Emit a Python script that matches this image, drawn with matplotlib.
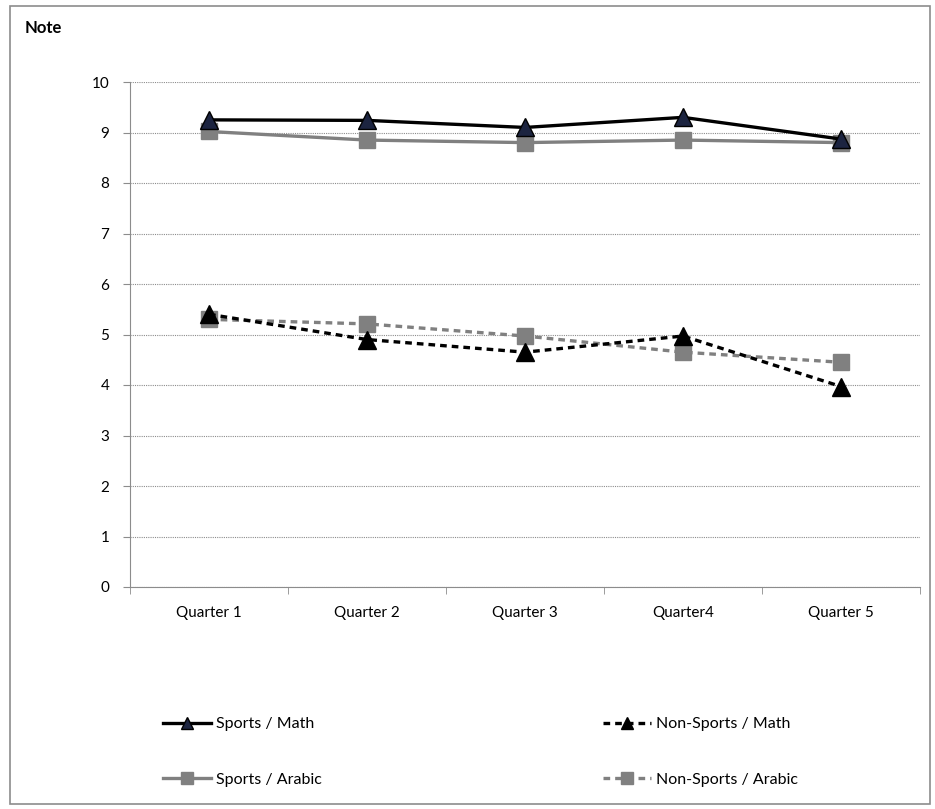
import numpy as np
import matplotlib.pyplot as plt
from matplotlib.patches import Rectangle

# Mean grades per quarter
quarters = ['Quarter 1', 'Quarter 2', 'Quarter 3', 'Quarter4', 'Quarter 5']
sports_math = [9.25, 9.24, 9.10, 9.30, 8.87]
sports_arabic = [9.02, 8.85, 8.80, 8.85, 8.80]
nonsports_math = [5.40, 4.90, 4.65, 4.97, 3.97]
nonsports_arabic = [5.30, 5.21, 4.97, 4.65, 4.45]

plt.rcParams['font.family'] = ['Lato', 'DejaVu Sans']

fig = plt.figure(figsize=(9.35, 8.09), dpi=100)
fig.patches.append(Rectangle((0.011, 0.006), 0.984, 0.986, transform=fig.transFigure,
                             fill=False, edgecolor='#8c8c8c', linewidth=1.2))
fig.text(25 / 935, 1 - 28 / 809, 'Note', fontsize=12, fontweight='bold', va='center')

ax = fig.add_axes([130 / 935, 1 - 587 / 809, 790 / 935, 505 / 809])
x = np.arange(len(quarters))

l1, = ax.plot(x, sports_math, color='black', lw=2.4, marker='^', ms=13,
              mfc='#1c2440', mec='black', zorder=4, label='Sports / Math')
l2, = ax.plot(x, sports_arabic, color='#808080', lw=2.4, marker='s', ms=12,
              mfc='#808080', mec='#808080', zorder=3, label='Sports / Arabic')
l3, = ax.plot(x, nonsports_math, color='black', lw=2.4, ls=(0, (2, 1.5)), marker='^', ms=13,
              mfc='black', mec='black', zorder=4, label='Non-Sports / Math')
l4, = ax.plot(x, nonsports_arabic, color='#808080', lw=2.4, ls=(0, (2, 1.5)), marker='s', ms=12,
              mfc='#808080', mec='#808080', zorder=3, label='Non-Sports / Arabic')

ax.set_xlim(-0.5, len(quarters) - 0.5)
ax.set_ylim(0, 10)
ax.set_yticks(range(0, 11))
ax.set_xticks(x)
ax.set_xticklabels(quarters)
ax.set_xticks(np.arange(-0.5, len(quarters)), minor=True)
ax.tick_params(axis='x', which='major', length=0, pad=14, labelsize=11)
ax.tick_params(axis='x', which='minor', length=5, color='#8c8c8c')
ax.tick_params(axis='y', length=5, color='#8c8c8c', pad=10, labelsize=11)
for s in ['top', 'right']:
    ax.spines[s].set_visible(False)
for s in ['left', 'bottom']:
    ax.spines[s].set_color('#8c8c8c')
ax.yaxis.grid(True, linestyle=(0, (1, 1)), color='#8c8c8c', linewidth=0.8)
ax.set_axisbelow(True)

leg_kw = dict(frameon=False, fontsize=11.5, handlelength=3.0, handletextpad=0.3,
              labelspacing=2.6, borderaxespad=0, borderpad=0, loc='upper left')
leg1 = fig.legend(handles=[l1, l2], bbox_to_anchor=(163 / 935, 1 - 717 / 809), **leg_kw)
leg2 = fig.legend(handles=[l3, l4], bbox_to_anchor=(603 / 935, 1 - 717 / 809), **leg_kw)
for leg in (leg1, leg2):
    for h in leg.legend_handles:
        h.set_markersize(8)

fig.savefig('out.png', dpi=100)
